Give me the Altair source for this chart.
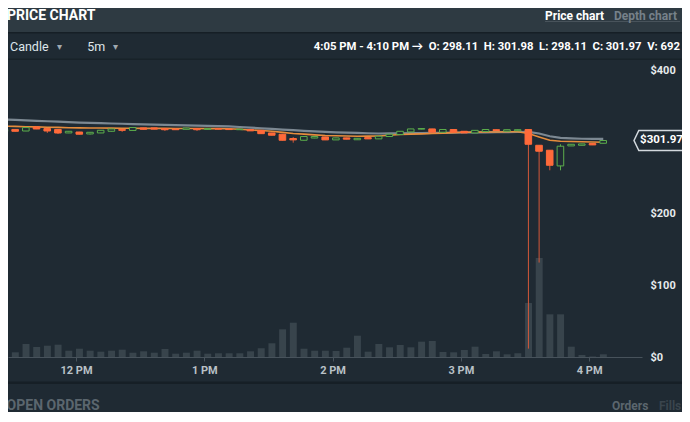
import altair as alt
import pandas as pd

# ---------------- data ----------------
opens = [314.7, 317.4, 315.2, 320.9, 318.6, 317.4, 312.5, 313.8, 311.1, 312.5,
         314.8, 317.4, 316.0, 319.5, 319.5, 318.5, 318.0, 317.6, 318.6, 317.5,
         318.5, 318.0, 317.0, 317.3, 316.1, 312.5, 310.7, 304.7, 302.3, 305.4,
         306.9, 302.8, 305.6, 303.0, 306.0, 304.2, 307.5, 310.3, 313.9, 317.8,
         318.1, 313.5, 317.3, 314.8, 312.5, 314.4, 317.0, 314.9, 315.5, 317.2,
         295.3, 288.4, 266.5, 294.4, 295.3, 297.7, 298.11]
closes = [317.3, 314.8, 320.0, 318.0, 315.2, 312.4, 314.8, 310.7, 313.4, 316.2,
          318.1, 316.1, 320.0, 317.6, 317.8, 317.0, 317.0, 319.4, 317.0, 318.5,
          317.8, 317.2, 317.9, 315.4, 311.5, 309.3, 302.3, 302.8, 307.5, 307.5,
          302.8, 305.6, 303.8, 305.0, 304.2, 307.9, 310.7, 314.8, 318.1, 318.6,
          313.5, 317.3, 313.5, 312.5, 316.1, 317.3, 315.9, 317.0, 317.0, 296.7,
          287.0, 267.4, 294.0, 296.7, 297.2, 295.8, 301.97]
highs = [317.5, 317.6, 320.2, 321.2, 318.8, 317.6, 315.0, 314.0, 313.6, 316.4,
         318.3, 317.6, 320.2, 319.7, 319.7, 318.7, 318.2, 319.6, 318.8, 318.7,
         318.7, 318.2, 318.1, 317.5, 316.3, 312.7, 310.9, 306.7, 307.7, 307.7,
         307.1, 305.8, 305.8, 305.2, 306.2, 308.1, 310.9, 315.0, 318.3, 318.8,
         318.3, 317.5, 317.5, 315.0, 316.3, 317.5, 317.2, 317.2, 317.2, 317.5,
         295.5, 288.6, 296.7, 296.9, 297.4, 297.9, 301.98]
lows = [310.3, 314.6, 315.0, 317.8, 312.5, 311.0, 312.3, 310.5, 310.3, 312.3,
        314.6, 314.0, 315.8, 317.4, 317.6, 315.3, 316.8, 317.4, 315.3, 317.3,
        317.6, 317.0, 316.8, 315.2, 311.3, 309.1, 302.1, 298.9, 302.1, 305.2,
        302.6, 302.6, 303.6, 302.8, 304.0, 304.0, 307.3, 310.1, 313.7, 317.6,
        313.3, 313.3, 313.3, 312.3, 312.3, 314.2, 315.7, 314.7, 315.3, 11.7,
        131.7, 260.4, 260.4, 294.2, 295.1, 295.6, 298.11]
volumes = [2120, 1200, 3330, 2560, 2890, 3150, 1610, 2120, 1610, 1360,
           1610, 1870, 1100, 1460, 1100, 2050, 850, 1100, 1610, 850,
           950, 950, 950, 1460, 2230, 3510, 7090, 8780, 2120, 1610,
           1610, 1540, 2380, 5450, 1360, 3330, 2480, 3070, 2480, 3920,
           4100, 1280, 1200, 1790, 2640, 770, 1460, 690, 950, 13820,
           25340, 10930, 10930, 2640, 510, 130, 692]
ma_slow = [331.2, 330.6, 330.0, 329.4, 328.8, 328.2, 327.6, 327.0, 326.6, 326.2,
           325.7, 325.3, 324.9, 324.4, 324.0, 323.7, 323.3, 323.0, 322.6, 322.3,
           321.9, 321.6, 320.8, 319.9, 319.0, 318.1, 317.2, 316.3, 315.5, 314.7,
           313.9, 313.4, 313.0, 312.6, 312.1, 311.7, 311.8, 312.0, 312.2, 312.3,
           312.5, 312.7, 312.9, 313.1, 313.2, 313.4, 313.5, 313.7, 313.8, 313.9,
           311.7, 307.9, 305.5, 304.8, 304.4, 304.2, 304.1]
ma_fast = [321.9, 321.6, 321.2, 320.9, 320.5, 320.2, 319.8, 319.5, 319.4, 319.3,
           319.2, 319.1, 319.0, 318.9, 318.9, 318.8, 318.7, 318.7, 318.6, 318.5,
           318.5, 318.4, 317.6, 316.7, 315.8, 314.9, 313.3, 311.7, 310.8, 309.8,
           308.9, 308.6, 308.2, 307.9, 308.1, 308.3, 309.3, 310.3, 310.8, 311.2,
           311.7, 312.3, 312.9, 313.5, 313.6, 313.8, 313.9, 314.1, 314.2, 311.7,
           306.9, 302.3, 300.9, 300.5, 300.2, 299.8, 299.5]
times = pd.date_range("2017-06-21 11:25", periods=len(opens), freq="5min")
hour_ticks = [12, 13, 14, 15, 16]
price_ticks = [0, 100, 200, 400]   # $300 sits under the last-price tag

df = pd.DataFrame({
    "t": (times.astype("int64") // 10**6).tolist(),
    "o": opens, "h": highs, "l": lows, "c": closes, "v": volumes,
    "ms": ma_slow, "mf": ma_fast,
})
last = pd.DataFrame({"c": [closes[-1]]})
one = pd.DataFrame({"k": [0]})

# ---------------- style ----------------
BG = "#1f2a33"
HEAD = "#2e3a42"
RED = "#ff6a3a"
RED_WICK = "#d2583a"
GREEN = "#5cae4c"
VOLC = "#38444c"
FONT = "Roboto, Lato, sans-serif"

def dt(h, m=0, s=0):
    return alt.DateTime(year=2017, month=6, date=21, hours=h, minutes=m, seconds=s, utc=True)

x_scale = alt.Scale(type="utc", domain=[dt(11, 28, 12), dt(16, 24, 42)])
x_axis = alt.Axis(values=[dt(h) for h in hour_ticks], format="%-I %p", title=None,
                  grid=False, domainColor="#47525b", tickColor="#47525b", tickSize=4,
                  labelColor="#b9c1c7", labelFont=FONT, labelFontSize=11,
                  labelFontWeight="bold", labelPadding=3, labelOverlap=False)
y_scale = alt.Scale(domain=[0, 411.44], nice=False, zero=False)
y_axis = alt.Axis(orient="right", values=price_ticks, labelExpr="'$' + datum.value",
                  title=None, grid=False, domain=False, ticks=False, labelPadding=8,
                  labelColor="#e6eaed", labelFont=FONT, labelFontSize=11,
                  labelFontWeight="bold", labelOverlap=False)

def X(f):
    return alt.X(f, type="temporal", scale=x_scale, axis=x_axis)

def Y(f):
    return alt.Y(f, type="quantitative", scale=y_scale, axis=y_axis)

base = alt.Chart(df).transform_calculate(
    t2="datum.t + 195000", tb="datum.t + 185000", tm="datum.t + 95000")

vol = base.mark_rect(color=VOLC).encode(
    x=X("t"), x2="t2:T",
    y=alt.Y("v:Q", scale=alt.Scale(domain=[0, 75520], nice=False), axis=None),
    y2=alt.datum(0),
)

slow = base.mark_line(color="#86929c", strokeWidth=2.2, opacity=0.9).encode(x=X("tm"), y=Y("ms"))
fast = base.mark_line(color="#e58c3c", strokeWidth=1.6).encode(x=X("tm"), y=Y("mf"))

up = "datum.c >= datum.o"
wicks = base.mark_rule(strokeWidth=1).encode(
    x=X("tm"), y=Y("l"), y2="h:Q",
    color=alt.condition(up, alt.value(GREEN), alt.value(RED_WICK)))
bodies = base.mark_rect(strokeWidth=1).encode(
    x=X("t"), x2="tb:T", y=Y("o"), y2="c:Q",
    fill=alt.condition(up, alt.value(BG), alt.value(RED)),
    stroke=alt.condition(up, alt.value(GREEN), alt.value(RED)),
)

tag_path = "M -1 0 L -0.8 -0.42 L 1.3 -0.42 L 1.3 0.42 L -0.8 0.42 Z"
tag = alt.Chart(last).mark_point(shape=tag_path, size=2304, filled=True, fill=BG,
                                 stroke="#d3d9de", strokeWidth=1.5, opacity=1).encode(
    x=alt.value(650), y=Y("c"))
tag_text = alt.Chart(last).transform_calculate(
    lab="'$' + format(datum.c, '.2f')").mark_text(
    font=FONT, fontSize=11.5, fontWeight="bold", color="#ffffff", align="center",
    baseline="middle").encode(x=alt.value(653.5), y=Y("c"), text="lab:N")

price = alt.layer(slow, fast, wicks, bodies, tag, tag_text)


def box(x1, x2, y1, y2, color):
    return alt.Chart(one).mark_rect(color=color).encode(
        x=alt.value(x1), x2=alt.value(x2), y=alt.value(y1), y2=alt.value(y2))


def label(txt, x, y, size, color, weight="bold", align="left"):
    return alt.Chart(one).mark_text(text=txt, font=FONT, fontSize=size, fontWeight=weight,
                                    color=color, align=align, baseline="middle").encode(
        x=alt.value(x), y=alt.value(y))


t_last = times[-1]
t_next = t_last + pd.Timedelta(minutes=5)
fmt = lambda t: t.strftime("%I:%M %p").lstrip("0")
nb = "\u00a0"
info = (f"{fmt(t_last)} - {fmt(t_next)} \u2192{nb} O: {opens[-1]:.2f}{nb} "
        f"H: {highs[-1]:.2f}{nb} L: {lows[-1]:.2f}{nb} C: {closes[-1]:.2f}{nb} "
        f"V: {volumes[-1]}")

deco = [
    box(-10, 700, -62, -30, HEAD),
    box(-10, 700, -30, -28.5, "#161f26"),
    box(-10, 700, -3.5, -2, "#182229"),
    box(-10, 700, 319.5, 322, "#161f26"),
    box(537, 672, -41, -40, "#48535b"),
    box(604, 672, 350.5, 351.5, "#2c373f"),
    label("PRICE CHART", -1, -46.5, 14, "#ffffff"),
    label("Price chart", 537, -46.5, 12, "#ffffff"),
    label("Depth chart", 606, -46.5, 12, "#76818a"),
    label("Candle", 2, -14.7, 12.5, "#dfe6eb", weight="normal"),
    label("\u25be", 49, -15, 10, "#a0a9b0", weight="normal"),
    label("5m", 79.3, -14.7, 12.5, "#dfe6eb", weight="normal"),
    label("\u25be", 105, -15, 10, "#a0a9b0", weight="normal"),
    label(info, 672, -15, 11.3, "#ffffff", align="right"),
    label("OPEN ORDERS", -1.4, 344, 14, "#5b666e"),
    label("Orders", 604, 344, 12, "#5b666e"),
    label("Fills", 651, 344, 12, "#3a454d"),
]

# whole chart: 674 x 404 px, so the page (8px margins) fits the 690x422 window
chart = alt.layer(*deco[:6], vol, price, *deco[6:]).resolve_scale(y="independent").properties(
    width=634, height=295,
    padding={"left": 0, "top": 54, "right": 40, "bottom": 55},
    autosize=alt.AutoSizeParams(type="none"),
    background=BG,
).configure_view(stroke=None)

chart.save("out.html", embed_options={"renderer": "svg", "actions": False})
